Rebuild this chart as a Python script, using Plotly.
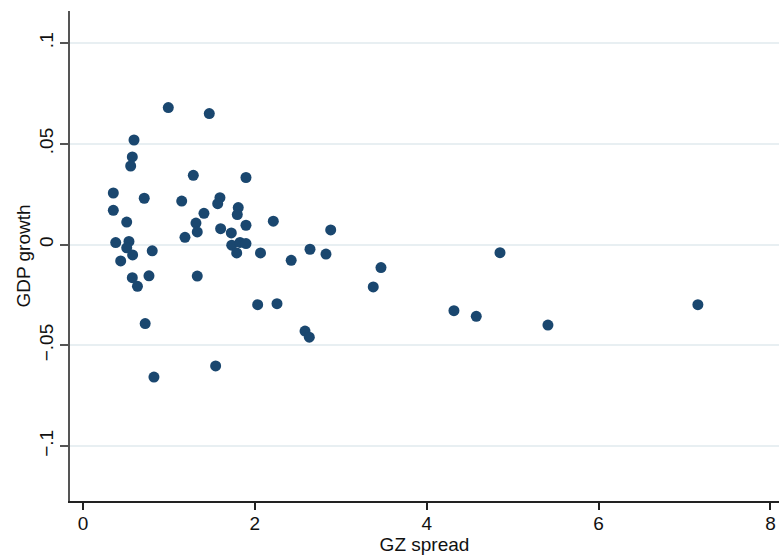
import plotly.graph_objects as go

gz_spread = [0.993, 1.470, 0.594, 0.574, 0.555, 1.284, 1.897, 0.353, 0.713, 1.149,
             1.594, 1.568, 0.353, 1.807, 1.796, 1.408, 0.509, 1.315, 1.330, 1.602,
             1.897, 2.215, 2.883, 1.726, 1.187, 0.381, 0.535, 0.509, 1.731, 1.827,
             1.897, 0.806, 0.578, 1.789, 2.066, 2.642, 2.828, 4.853, 0.439, 2.423,
             3.468, 0.574, 0.768, 1.330, 0.634, 3.378, 2.033, 2.258, 7.156, 4.317,
             4.577, 5.411, 0.724, 2.584, 2.634, 1.544, 0.826]
gdp_growth = [0.0680, 0.0650, 0.0519, 0.0435, 0.0390, 0.0344, 0.0333, 0.0256, 0.0230, 0.0216,
              0.0233, 0.0203, 0.0170, 0.0184, 0.0149, 0.0155, 0.0112, 0.0107, 0.0063, 0.0079,
              0.0096, 0.0116, 0.0073, 0.0058, 0.0036, 0.0010, 0.0016, -0.0016, -0.0003, 0.0011,
              0.0005, -0.0031, -0.0051, -0.0041, -0.0041, -0.0023, -0.0047, -0.0040, -0.0081, -0.0078,
              -0.0114, -0.0164, -0.0155, -0.0156, -0.0207, -0.0210, -0.0298, -0.0293, -0.0298, -0.0328,
              -0.0356, -0.0399, -0.0392, -0.0429, -0.0459, -0.0602, -0.0657]

x_ticks = [0, 2, 4, 6, 8]
x_tick_labels = ["0", "2", "4", "6", "8"]
y_ticks = [-0.1, -0.05, 0, 0.05, 0.1]
y_tick_labels = ["\u2212.1", "\u2212.05", "0", ".05", ".1"]

navy = "#1a476f"
font_family = "Liberation Sans, Arial, Helvetica, sans-serif"

fig = go.Figure()
fig.add_trace(go.Scatter(
    x=gz_spread, y=gdp_growth, mode="markers",
    marker=dict(color=navy, size=11, line=dict(width=0)),
    showlegend=False, hoverinfo="x+y",
))

fig.update_layout(
    width=779, height=557,
    margin=dict(l=70, r=0, t=11, b=56),
    paper_bgcolor="white", plot_bgcolor="white",
    font=dict(family=font_family, size=20, color="#111"),
    xaxis=dict(
        range=[-0.151, 8.10], tickvals=x_ticks, ticktext=x_tick_labels,
        showgrid=False, zeroline=False,
        showline=True, linecolor="#222", linewidth=1.5,
        ticks="outside", ticklen=7, tickwidth=1.5, tickcolor="#222",
        tickfont=dict(size=19), ticklabelstandoff=-3,
        title=dict(text="GZ spread", font=dict(size=19), standoff=0),
    ),
    yaxis=dict(
        range=[-0.1272, 0.1159], tickvals=y_ticks, ticktext=y_tick_labels,
        showgrid=True, gridcolor="#e8eff2", gridwidth=1.5,
        zeroline=False,
        showline=True, linecolor="#555", linewidth=1.5,
        ticks="outside", ticklen=8, tickwidth=1.5, tickcolor="#555",
        tickangle=-90, tickfont=dict(size=19),
        title=dict(text="GDP growth", font=dict(size=19), standoff=0),
    ),
)

fig.write_html("out.html")
